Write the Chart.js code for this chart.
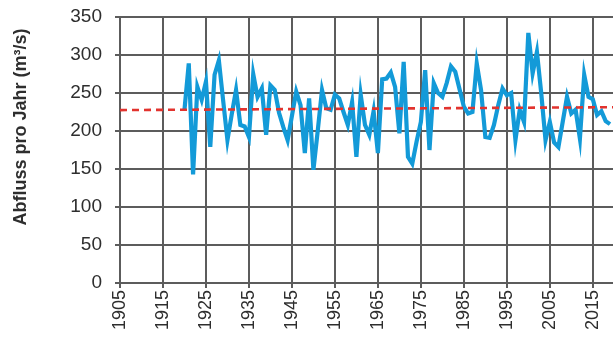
<!DOCTYPE html>
<html>
<head>
<meta charset="utf-8">
<script src="https://cdn.jsdelivr.net/npm/chart.js@4"></script>
<style>
  html, body { margin: 0; padding: 0; background: #fff; }
  #wrap { width: 613px; height: 345px; }
</style>
</head>
<body>
<div id="wrap"><canvas id="flowChart"></canvas></div>
<script>
// Jahresabfluss (m3/s)
const firstYear = 1920;
const flow = [
  228, 289, 143, 258, 241, 265, 179, 274, 293, 240,
  188, 222, 254, 208, 206, 192, 275, 245, 256, 195,
  260, 254, 224, 205, 188, 220, 252, 234, 171, 243,
  149, 200, 254, 230, 228, 248, 243, 225, 208, 238,
  166, 248, 208, 195, 226, 171, 268, 269, 277, 258,
  197, 291, 166, 157, 186, 212, 280, 175, 263, 250,
  245, 263, 285, 278, 255, 232, 223, 225, 289, 254,
  192, 191, 208, 234, 256, 247, 250, 188, 228, 212,
  329, 276, 304, 250, 188, 212, 185, 179, 212, 245,
  223, 228, 190, 274, 245, 242, 221, 226, 213, 209
];
const years = flow.map((v, i) => firstYear + i);

// Trendlinie (Anfang / Ende)
const trendYears = [1905, 2019.7];
const trendFlow = [227.5, 231.3];

const xTicks = [1905, 1915, 1925, 1935, 1945, 1955, 1965, 1975, 1985, 1995, 2005, 2015];
const yTicks = [0, 50, 100, 150, 200, 250, 300, 350];

const yTitle = 'Abfluss pro Jahr (m\u00B3/s)';
const gridColor = '#5c5c5c';
const textColor = '#2e2e2e';
const fontFamily = '"Liberation Sans", Arial, sans-serif';

// y-Achsentitel selbst zeichnen (sitzt nicht mittig)
const yTitlePlugin = {
  id: 'yTitle',
  afterDraw(chart) {
    const c = chart.ctx;
    c.save();
    c.translate(21, 127);
    c.rotate(-Math.PI / 2);
    c.font = 'bold 18px ' + fontFamily;
    c.fillStyle = textColor;
    c.textAlign = 'center';
    c.textBaseline = 'middle';
    c.fillText(yTitle, 0, 0);
    c.restore();
  }
};

const ctx = document.getElementById('flowChart').getContext('2d');

new Chart(ctx, {
  type: 'line',
  data: {
    datasets: [
      {
        label: 'Abfluss',
        data: years.map((y, i) => ({ x: y, y: flow[i] })),
        borderColor: '#139ad8',
        borderWidth: 4.2,
        pointRadius: 0,
        tension: 0,
        order: 2
      },
      {
        label: 'Trend',
        data: trendYears.map((y, i) => ({ x: y, y: trendFlow[i] })),
        borderColor: '#e2332e',
        borderWidth: 2.6,
        borderDash: [7, 5],
        pointRadius: 0,
        order: 1
      }
    ]
  },
  options: {
    responsive: true,
    maintainAspectRatio: false,
    animation: false,
    layout: { padding: { top: 17, right: 0, left: 0, bottom: 0 } },
    plugins: {
      legend: { display: false },
      tooltip: { enabled: false }
    },
    scales: {
      x: {
        type: 'linear',
        min: 1905,
        max: 2019.7,
        afterBuildTicks: axis => { axis.ticks = xTicks.map(v => ({ value: v })); },
        afterFit: axis => { axis.height = 62; axis.paddingLeft = 0; axis.paddingRight = 0; },
        grid: { color: gridColor, lineWidth: 2, tickLength: 5, tickColor: gridColor },
        border: { color: gridColor, width: 2 },
        ticks: {
          minRotation: 90,
          maxRotation: 90,
          padding: 2,
          color: textColor,
          font: { family: fontFamily, size: 18 },
          callback: v => String(v)
        }
      },
      y: {
        min: 0,
        max: 350,
        afterBuildTicks: axis => { axis.ticks = yTicks.map(v => ({ value: v })); },
        afterFit: axis => { axis.width = 120; axis.paddingTop = 0; axis.paddingBottom = 0; },
        grid: { color: gridColor, lineWidth: 2, tickLength: 5, tickColor: gridColor },
        border: { color: gridColor, width: 2 },
        ticks: {
          padding: 13,
          color: textColor,
          font: { family: fontFamily, size: 19 }
        }
      }
    }
  },
  plugins: [yTitlePlugin]
});
</script>
</body>
</html>
